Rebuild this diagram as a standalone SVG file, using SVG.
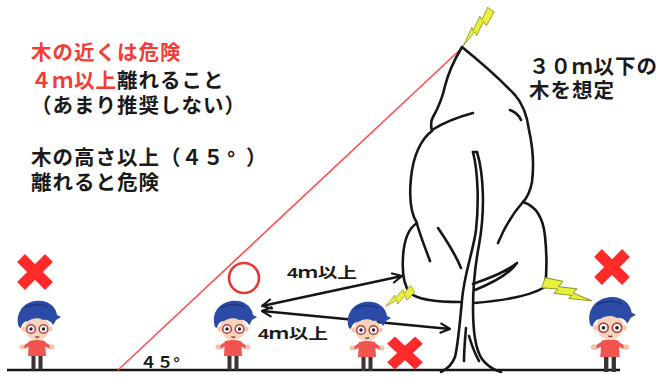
<svg xmlns="http://www.w3.org/2000/svg" width="662" height="378" viewBox="0 0 662 378">
  <style>
    .t{font-family:"Liberation Sans","Noto Sans CJK JP",sans-serif;font-weight:700;font-size:20.5px;letter-spacing:1px;fill:#1a1a1a}
    .r{fill:#f63a36}
    .lbl{font-family:"Liberation Sans","Noto Sans CJK JP",sans-serif;font-weight:700;font-size:15px;fill:#1a1a1a}
    .ink{fill:none;stroke:#161616;stroke-width:2.6;stroke-linecap:round;stroke-linejoin:round}
    .bolt{fill:#e9f03c;stroke:#8d9a2a;stroke-width:0.8;stroke-linejoin:round}
    .x{stroke:#ff2b2b;stroke-width:11;fill:none}
    .conn{fill:none;stroke:#151515;stroke-width:2.4}
  </style>
  <defs>
    <marker id="chev" viewBox="0 0 12 12" refX="11" refY="6" markerWidth="12" markerHeight="12" markerUnits="userSpaceOnUse" orient="auto-start-reverse">
      <path d="M1,1 L11,6 L1,11" fill="none" stroke="#151515" stroke-width="2.2" stroke-linejoin="round"/>
    </marker>
    <path id="boltShape" d="M0,-5 L16,-7 L14,-2 L30,-5 L28,-1 L46,0 L26,4 L28,1 L12,4 L14,0 L0,3 Z"/>
    <path id="cross" d="M-14,-14 L14,14 M14,-14 L-14,14"/>
    <!-- small child figure, feet at the origin -->
    <g id="kid">
      <rect x="-5.5" y="-15" width="4" height="15" fill="#3b3333"/>
      <rect x="1.5" y="-15" width="4" height="15" fill="#3b3333"/>
      <path d="M-8,-29 Q0,-31 8,-29 L9,-14 L-9,-14 Z" fill="#f25450"/>
      <path d="M-8,-28 L-14,-24 L-13,-21 L-7,-24 Z" fill="#f25450"/>
      <path d="M8,-28 L14,-24 L13,-21 L7,-24 Z" fill="#f25450"/>
      <circle cx="-15" cy="-23" r="2.6" fill="#f3c4a8"/>
      <circle cx="15" cy="-23" r="2.6" fill="#f3c4a8"/>
      <circle cx="-13" cy="-41" r="2.5" fill="#f3c4a8"/>
      <circle cx="13" cy="-41" r="2.5" fill="#f3c4a8"/>
      <ellipse cx="0" cy="-42" rx="12.5" ry="12" fill="#f6d4bc"/>
      <circle cx="-6" cy="-41" r="4.3" fill="#fff" stroke="#b2454a" stroke-width="1.6"/>
      <circle cx="6.5" cy="-41" r="4.3" fill="#fff" stroke="#b2454a" stroke-width="1.6"/>
      <circle cx="-6" cy="-41" r="1.7" fill="#222"/>
      <circle cx="6.5" cy="-41" r="1.7" fill="#222"/>
      <path d="M-1.5,-33.5 q1.8,1.6 3.6,0" stroke="#7a3030" stroke-width="1.2" fill="none"/>
      <path d="M-18,-43 C-22,-54 -16,-67 -2,-69 C10,-71 19,-64 20,-55 L24,-53 L19,-50 C18,-48 17,-46 16,-45 C14,-49 10,-51 6,-50 C2,-53 -5,-52 -9,-49 C-13,-49 -15,-46 -16,-42 Z" fill="#2c4ba6"/>
      <path d="M-12,-62 C-6,-66 4,-67 11,-63" stroke="#1d3480" stroke-width="1.5" fill="none"/>
    </g>
  </defs>

  <rect width="662" height="378" fill="#ffffff"/>

  <!-- captions: each block is one text element with one tspan per line -->
  <g id="caption-left">
    <text class="t"><tspan class="r" x="31" y="60">木の近くは危険</tspan><tspan x="31" y="88"><tspan class="r">４ｍ以上</tspan>離れること</tspan><tspan x="31" y="113">（あまり推奨しない）</tspan></text>
    <text class="t"><tspan x="31" y="165">木の高さ以上（４５</tspan><tspan x="227" y="165">°</tspan><tspan x="246" y="165">）</tspan><tspan x="31" y="190">離れると危険</tspan></text>
  </g>
  <g id="caption-right">
    <text class="t"><tspan x="529" y="74">３０ｍ以下の</tspan><tspan x="529" y="98">木を想定</tspan></text>
  </g>

  <!-- ground and 45 degree guide -->
  <g id="ground">
    <path d="M7,370 L620,370" stroke="#161616" stroke-width="2.6"/>
    <path d="M118,370 L463,47" stroke="#ff4e4e" stroke-width="1.6"/>
    <text class="lbl" x="140" y="368" textLength="40" lengthAdjust="spacingAndGlyphs">４５°</text>
  </g>

  <!-- tree -->
  <g id="tree" class="ink">
    <path d="M462,47 C456,57 449,70 445,86 C442,100 437,110 433,117 C430,122 431,127 432,131 C421,139 413,156 411,178 C409,198 411,214 417,223 C409,228 404,240 403,257 C402,273 404,286 410,293 C418,300 437,302 460,302"/>
    <path d="M462,47 C478,60 500,79 515,95 C523,104 527,115 529,130 C533,148 534,166 532,182 C530,192 527,198 523,202 C536,206 543,217 545,236 C547,256 547,272 545,287 C530,296 500,301 474,303"/>
    <path d="M523,202 C514,212 505,226 498,243"/>
    <path d="M510,110 C515,112 519,115 521,120"/>
    <path d="M432,130 C443,123 458,117 473,113"/>
    <path d="M417,224 C421,238 426,250 430,261"/>
    <path d="M438,228 C446,240 455,253 461,268"/>
    <path d="M473,284 C489,278 506,272 517,263 C510,273 495,282 475,290"/>
    <path d="M473,152 C478,172 479,203 476,230 C473,252 464,275 462,300 C460,322 458,345 455,357 C452,365 447,369 441,372"/>
    <path d="M477,152 C484,175 485,212 479,245 C475,266 473,288 473,308 C473,332 475,349 482,359 C487,366 494,370 501,372"/>
    <path d="M473,152 L477,152"/>
    <path d="M466,328 C465,340 464,350 464,361"/>
    <path d="M469,336 C472,346 475,354 479,361"/>
  </g>

  <!-- lightning -->
  <g id="lightning">
    <use href="#boltShape" class="bolt" transform="translate(490,9) rotate(126) scale(0.98,1)"/>
    <use href="#boltShape" class="bolt" transform="translate(412,288) rotate(145) scale(0.7,1)"/>
    <use href="#boltShape" class="bolt" transform="translate(543,284) rotate(19) scale(1.12,1.3)"/>
  </g>

  <!-- distance arrows -->
  <g id="connectors">
    <path class="conn" d="M262,306 L402,276" marker-start="url(#chev)" marker-end="url(#chev)"/>
    <path class="conn" d="M262,311 L450,329" marker-start="url(#chev)" marker-end="url(#chev)"/>
  </g>
  <g id="labels">
    <text class="lbl" x="287" y="278" textLength="70" lengthAdjust="spacingAndGlyphs">4ｍ以上</text>
    <text class="lbl" x="258" y="339" textLength="70" lengthAdjust="spacingAndGlyphs">4ｍ以上</text>
  </g>

  <!-- people -->
  <g id="person-far-left"><use href="#kid" transform="translate(37,370)"/></g>
  <g id="person-safe"><use href="#kid" transform="translate(233,370)"/></g>
  <g id="person-near"><use href="#kid" transform="translate(367,371)"/></g>
  <g id="person-right"><use href="#kid" transform="translate(610,372) scale(1.08)"/></g>

  <!-- marks -->
  <g id="ok-mark"><circle cx="244" cy="278" r="15" fill="none" stroke="#e83535" stroke-width="2.6"/></g>
  <g id="ng-far-left"><use href="#cross" class="x" transform="translate(35,272)"/></g>
  <g id="ng-near"><use href="#cross" class="x" transform="translate(405,353) scale(1,0.92)"/></g>
  <g id="ng-right"><use href="#cross" class="x" transform="translate(612,267)"/></g>
</svg>
